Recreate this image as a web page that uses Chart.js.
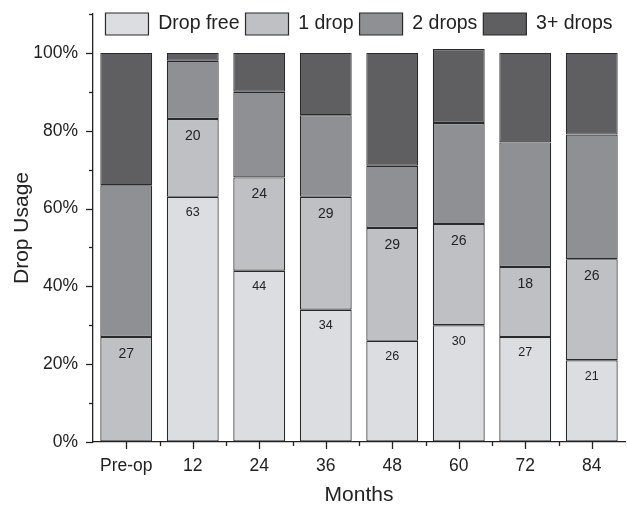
<!DOCTYPE html>
<html><head><meta charset="utf-8">
<script src="https://cdn.jsdelivr.net/npm/chart.js@4"></script>
<style>html,body{margin:0;padding:0;background:#fff}</style>
</head><body>
<canvas id="c" width="627" height="505"></canvas>
<script>
const categories = ['Pre-op','12','24','36','48','60','72','84'];
const dropFree = [0,63,44,34,26,30,27,21];
const oneDrop = [27,20,24,29,29,26,18,26];
const twoDrops = [39,15,22,21,16,26,32,32];
const threePlusDrops = [34,2,10,16,29,19,23,21];
const seriesNames = ['Drop free','1 drop','2 drops','3+ drops'];
const yLabelValues = [0,20,40,60,80,100];

const FONT = '"Liberation Sans", Arial, sans-serif';
const INK = '#222222';
const colors = ['#dcdde0','#bfc0c4','#8f9094','#5f5f62'];
const seriesData = [dropFree, oneDrop, twoDrops, threePlusDrops];

const tickPlugin = {
  id: 'customTicks',
  afterDraw(chart) {
    const ctx = chart.ctx, xs = chart.scales.x, ys = chart.scales.y, ca = chart.chartArea;
    ctx.save();
    ctx.strokeStyle = INK; ctx.lineWidth = 1.3;
    const L = ca.left, B = ca.bottom;
    ys.ticks.forEach(t => {
      const py = Math.round(ys.getPixelForValue(t.value)) + 0.5;
      const len = yLabelValues.includes(t.value) ? 7 : 4;
      ctx.beginPath(); ctx.moveTo(L - len, py); ctx.lineTo(L, py); ctx.stroke();
    });
    for (let i = 0; i < categories.length; i++) {
      const px = Math.round(xs.getPixelForValue(i)) + 0.5;
      ctx.beginPath(); ctx.moveTo(px, B); ctx.lineTo(px, B + 7); ctx.stroke();
      if (i < categories.length - 1) {
        const pm = Math.round((xs.getPixelForValue(i) + xs.getPixelForValue(i + 1)) / 2) + 0.5;
        ctx.beginPath(); ctx.moveTo(pm, B); ctx.lineTo(pm, B + 4); ctx.stroke();
      }
    }
    ctx.restore();
  }
};

const labelPlugin = {
  id: 'segLabels',
  afterDatasetsDraw(chart) {
    const ctx = chart.ctx;
    ctx.save();
    ctx.fillStyle = INK; ctx.textAlign = 'center'; ctx.textBaseline = 'middle';
    [[0, 12.5, 16], [1, 14, 17]].forEach(([di, size, off]) => {
      const meta = chart.getDatasetMeta(di);
      ctx.font = size + 'px ' + FONT;
      meta.data.forEach((bar, i) => {
        const v = chart.data.datasets[di].data[i];
        if (!v) return;
        ctx.fillText(String(v), bar.x, bar.y + off);
      });
    });
    ctx.restore();
  }
};

const legendShift = {
  id: 'legendShift',
  afterLayout(chart) {
    const lg = chart.legend;
    if (lg) { lg.bottom = lg.top + 45; lg.height = 45; }
  }
};

new Chart(document.getElementById('c'), {
  type: 'bar',
  data: {
    labels: categories,
    datasets: seriesData.map((d, i) => ({
      label: seriesNames[i],
      data: d,
      backgroundColor: colors[i],
      borderColor: '#2a2a2a',
      borderWidth: 1.2,
      borderSkipped: false,
      barPercentage: 0.78,
      categoryPercentage: 1
    }))
  },
  options: {
    responsive: false,
    animation: false,
    devicePixelRatio: 1,
    layout: { padding: { top: 7, right: 2, left: 0, bottom: 0 } },
    plugins: {
      legend: {
        position: 'top',
        fullSize: false,
        maxHeight: 7,
        align: 'center',
        labels: {
          boxWidth: 43, boxHeight: 22, padding: 6,
          color: INK,
          font: { family: FONT, size: 19.5 }
        }
      },
      tooltip: { enabled: false }
    },
    scales: {
      x: {
        stacked: true,
        grid: { display: true, drawOnChartArea: false, drawTicks: true, tickLength: 7, tickColor: 'transparent' },
        border: { color: INK, width: 1.3 },
        ticks: { color: INK, padding: 7, font: { family: FONT, size: 17.5 }, maxRotation: 0 },
        title: { display: true, text: 'Months', color: INK, font: { family: FONT, size: 21 }, padding: { top: 2, bottom: -3 } },
        afterFit(s) { s.height = 63; }
      },
      y: {
        stacked: true,
        min: 0, max: 110,
        grid: { display: true, drawOnChartArea: false, drawTicks: true, tickLength: 7, tickColor: 'transparent' },
        border: { color: INK, width: 1.3 },
        ticks: {
          stepSize: 10, color: INK, padding: 8,
          font: { family: FONT, size: 17.5 },
          callback: v => yLabelValues.includes(v) ? v + '%' : ''
        },
        title: { display: true, text: 'Drop Usage', color: INK, font: { family: FONT, size: 21 }, padding: { top: 10, bottom: 0 } },
        afterFit(s) { s.width = 93; s.paddingTop = 0; s.paddingBottom = 0; }
      }
    }
  },
  plugins: [tickPlugin, labelPlugin, legendShift]
});
</script>
</body></html>
